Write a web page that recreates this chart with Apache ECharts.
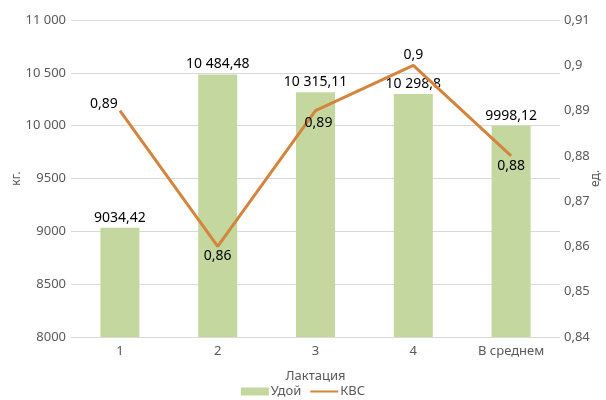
<!DOCTYPE html>
<html>
<head>
<meta charset="utf-8">
<script src="https://cdn.jsdelivr.net/npm/echarts@6/dist/echarts.min.js"></script>
<style>
html, body { margin: 0; padding: 0; background: #fff; }
#chart { width: 606px; height: 400px; }
</style>
</head>
<body>
<div id="chart"></div>
<script>
// data
var categories = ['1', '2', '3', '4', 'В среднем'];
var udoy = [9034.42, 10484.48, 10315.11, 10298.8, 9998.12];
var kvs = [0.89, 0.86, 0.89, 0.9, 0.88];
var kvsLabelPos = ['top', 'bottom', 'bottom', 'top', 'bottom'];

var FONT = 'Noto Sans';

// russian style number: comma decimals, space groups from 10 000 up
function ruNum(v) {
	var s = String(Math.round(v * 100) / 100).replace('.', ',');
	var parts = s.split(',');
	if (parts[0].length > 4) {
		parts[0] = parts[0].replace(/\B(?=(\d{3})+(?!\d))/g, ' ');
	}
	return parts.join(',');
}

var myChart = echarts.init(document.getElementById('chart'));

var kvsData = kvs.map(function (v, i) {
	var lab = { position: kvsLabelPos[i], distance: 3 };
	if (i === 0) { lab.distance = 0; lab.offset = [-16, 0]; }
	if (i === 2) { lab.distance = 5; lab.offset = [3, 0]; }
	return { value: v, label: lab };
});

var option = {
	textStyle: { fontFamily: FONT },
	grid: { left: 71, right: 46, top: 20, bottom: 63, outerBoundsMode: 'none', containLabel: false },
	legend: {
		bottom: -3,
		left: 'center',
		itemGap: 8,
		itemWidth: 28,
		itemHeight: 8,
		textStyle: { color: '#595959', fontSize: 13, fontFamily: FONT, padding: [0, 0, 0, -3] },
		data: [
			{ name: 'Удой', icon: 'rect' },
			{ name: 'КВС', itemStyle: { opacity: 0 } }
		]
	},
	xAxis: {
		type: 'category',
		data: categories,
		name: 'Лактация',
		nameLocation: 'middle',
		nameGap: 33,
		nameMoveOverlap: false,
		nameTextStyle: { color: '#595959', fontSize: 13 },
		axisLine: { lineStyle: { color: '#d9d9d9' } },
		axisTick: { show: false },
		axisLabel: { color: '#595959', fontSize: 13, margin: 8 }
	},
	yAxis: [
		{
			type: 'value',
			min: 8000,
			max: 11000,
			interval: 500,
			name: 'кг.',
			nameLocation: 'middle',
			nameGap: 48,
			nameRotate: 90,
			nameMoveOverlap: false,
			nameTextStyle: { color: '#595959', fontSize: 12 },
			axisLine: { show: false },
			axisTick: { show: false },
			splitLine: { lineStyle: { color: '#d9d9d9' } },
			axisLabel: { color: '#595959', fontSize: 13, margin: 5, formatter: ruNum }
		},
		{
			type: 'value',
			min: 0.84,
			max: 0.91,
			interval: 0.01,
			name: 'ед.',
			nameLocation: 'middle',
			nameGap: 30,
			nameRotate: 90,
			nameMoveOverlap: false,
			nameTextStyle: { color: '#595959', fontSize: 12 },
			axisLine: { show: false },
			axisTick: { show: false },
			splitLine: { show: false },
			axisLabel: { color: '#595959', fontSize: 13, margin: 4, formatter: ruNum }
		}
	],
	series: [
		{
			name: 'Удой',
			type: 'bar',
			data: udoy,
			barWidth: 39,
			itemStyle: { color: '#C3D79F' },
			label: {
				show: true,
				position: 'top',
				distance: 3,
				color: '#000',
				fontSize: 14,
				formatter: function (p) { return ruNum(p.value); }
			}
		},
		{
			name: 'КВС',
			type: 'line',
			yAxisIndex: 1,
			data: kvsData,
			symbol: 'circle',
			symbolSize: 0,
			showSymbol: true,
			lineStyle: { color: '#D4843C', width: 3 },
			itemStyle: { color: '#D4843C' },
			label: {
				show: true,
				color: '#000',
				fontSize: 14,
				formatter: function (p) { return ruNum(p.value); }
			}
		}
	]
};

myChart.setOption(option);
</script>
</body>
</html>
